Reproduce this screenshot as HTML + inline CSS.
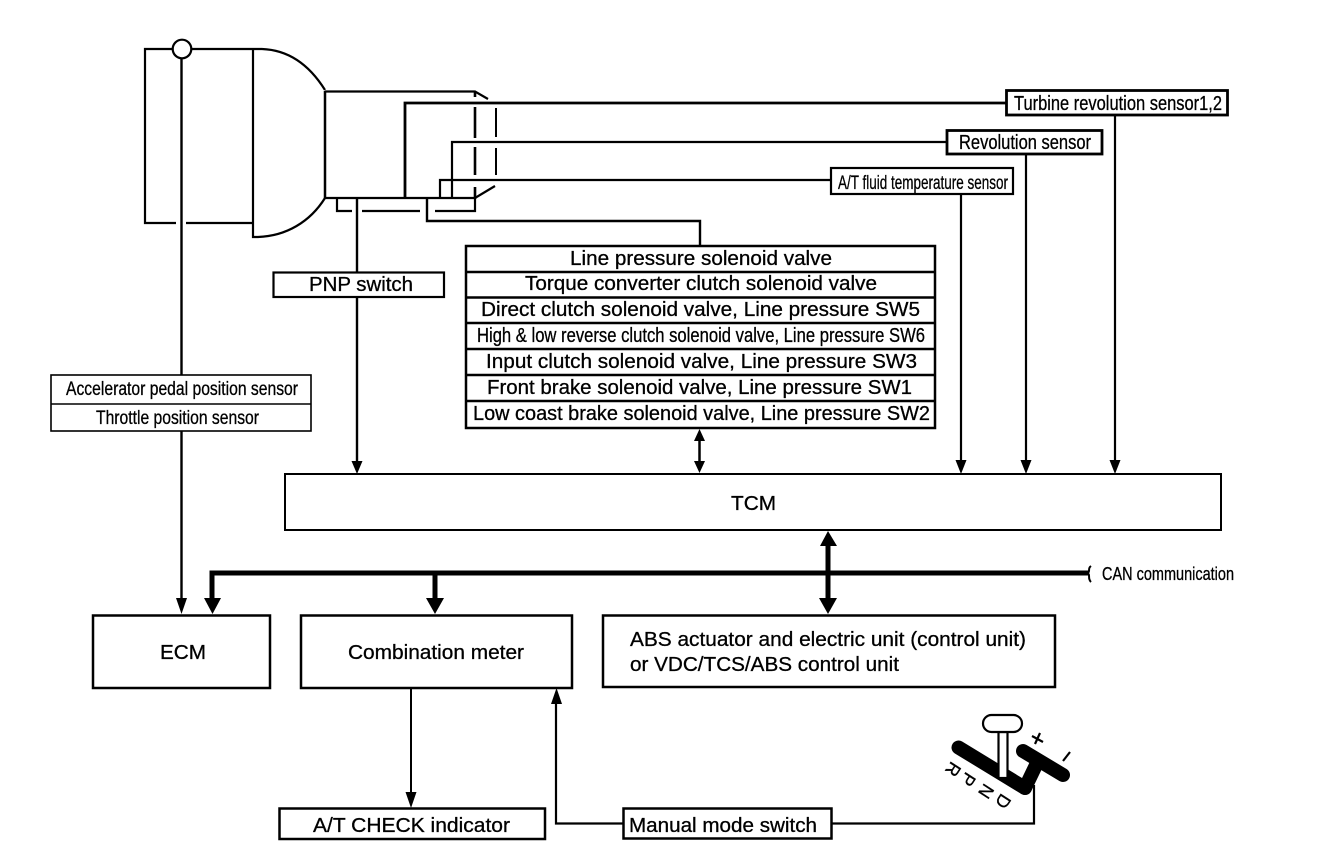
<!DOCTYPE html>
<html><head><meta charset="utf-8"><style>
html,body{margin:0;padding:0;background:#fff}
svg{display:block}
text{font-family:"Liberation Sans",sans-serif;fill:#000;stroke:#000;stroke-width:.3}
</style></head><body>
<svg width="1328" height="856" viewBox="0 0 1328 856" xmlns="http://www.w3.org/2000/svg">
<rect width="1328" height="856" fill="#fff"/>
<g fill="none" stroke="#000" stroke-width="2.2">
<!-- converter / engine -->
<path d="M173 49H145V223H176M186 223H253"/>
<path d="M191 49H262"/>
<path d="M253 49V237H258C286 236 310 222 325 198"/>
<path d="M262 49C290 50 310 66 325 90"/>
<circle cx="182" cy="49" r="9.3"/>
<path d="M325 91V198" stroke-width="2.5"/>
<path d="M325 91.500H475L488 99"/>
<path d="M325 198H475L495 186"/>
<path d="M475 91V97M475 107V138M475 147V175M475 187V199" stroke-width="2.600"/>
<path d="M496 108V137M496 148V175" stroke-width="2"/>
<path d="M405 198V103H1006" stroke-width="2.800"/>
<path d="M452 198V142H947"/>
<path d="M440 198V180H832" stroke-width="2.200"/>
<path d="M337 199V211H352M362 211H420M435 211H475V198"/>
<path d="M427 199V221H700V246" stroke-width="2.400"/>
<path d="M357 198V272" stroke-width="2.400"/>
<!-- sensor boxes -->
<rect x="1006.500" y="90.500" width="221" height="24.500" stroke-width="2.800"/>
<rect x="947" y="130.500" width="155" height="23.500" stroke-width="2.800"/>
<rect x="831" y="168" width="182" height="26" stroke-width="2.200"/>
<path d="M1115 115V465M1026 154V465M961 194V465"/>
<!-- solenoid table -->
<rect x="466" y="246" width="469" height="182" stroke-width="2.500"/>
<path d="M466 272H935M466 297.500H935M466 323H935M466 349H935M466 375H935M466 401H935" stroke-width="2.500"/>
<!-- PNP -->
<rect x="273.500" y="272.500" width="170.500" height="24.500"/>
<path d="M357 297V465" stroke-width="2.400"/>
<!-- throttle sensor -->
<path d="M181.500 58V375M181.500 431V600" stroke-width="2.400"/>
<rect x="51" y="375" width="260" height="56" stroke-width="1.600"/>
<path d="M51 404H311" stroke-width="1.600"/>
<!-- TCM -->
<rect x="285" y="474" width="936" height="56" stroke-width="2"/>
<path d="M699.500 440V462" stroke-width="2.500"/>
<!-- bus -->
<path d="M212 600V573H1088" stroke-width="5"/>
<path d="M435 573V600" stroke-width="5"/>
<path d="M828 545V600" stroke-width="5"/>
<path d="M1091 566C1087 569 1091 571 1087.500 573C1091 575 1087 578 1091 582" stroke-width="2"/>
<!-- bottom boxes -->
<rect x="93" y="615.500" width="177" height="72.500" stroke-width="2.500"/>
<rect x="301" y="615.500" width="271" height="72.500" stroke-width="2.500"/>
<rect x="603" y="615.500" width="452" height="71.500" stroke-width="2.500"/>
<rect x="279.500" y="808.500" width="265.500" height="30.500" stroke-width="2.500"/>
<rect x="623.500" y="808.500" width="208" height="30" stroke-width="2.500"/>
<path d="M411 688V800" stroke-width="2"/>
<path d="M623 823.500H556V700" stroke-width="2.200"/>
<path d="M832 823.500H1034V785" stroke-width="2.200"/>
</g>
<!-- arrowheads -->
<g fill="#000">
<path d="M351.500 461H362.500L357 474Z"/>
<path d="M955.500 460H966.500L961 474Z"/>
<path d="M1020.500 460H1031.500L1026 474Z"/>
<path d="M1109.500 460H1120.500L1115 474Z"/>
<path d="M694 441H705L699.500 429Z"/>
<path d="M694 461H705L699.500 473Z"/>
<path d="M176 598H187L181.500 614Z"/>
<path d="M204 598H221L212.500 614Z"/>
<path d="M426 598H444L435 614Z"/>
<path d="M820 546H837L828 531Z"/>
<path d="M819 598H837L828 614Z"/>
<path d="M405.500 792H416.500L411 808Z"/>
<path d="M551 704H562L556.500 688Z"/>
</g>
<!-- shift lever -->
<g fill="none" stroke="#000">
<path d="M958.500 747.500L1025 788" stroke-width="14" stroke-linecap="round"/>
<path d="M1025 788L1037 763" stroke-width="14" stroke-linecap="round"/>
<path d="M1023 751L1063 775" stroke-width="14" stroke-linecap="round"/>
<rect x="998.500" y="732" width="9" height="46" fill="#fff" stroke-width="2.200"/>
<rect x="983" y="715" width="39" height="17" rx="8.500" fill="#fff" stroke-width="2.200"/>
<path d="M1032 736L1043 742M1040 733L1035 744" stroke-width="2.200"/>
<path d="M1063 761L1070 752" stroke-width="2.200"/>
</g>
<g font-size="18" text-anchor="middle">
<text transform="translate(948 766) rotate(123)" dy="0">R</text>
<text transform="translate(963 776) rotate(123)">P</text>
<text transform="translate(981 788) rotate(123)">N</text>
<text transform="translate(998 798) rotate(123)">D</text>
</g>
<!-- labels -->
<g text-anchor="start" xml:space="preserve">
<text x="1014" y="110" font-size="20" textLength="208" lengthAdjust="spacingAndGlyphs">Turbine revolution sensor1,2</text>
<text x="959" y="149" font-size="20" textLength="132" lengthAdjust="spacingAndGlyphs">Revolution sensor</text>
<text x="838" y="189" font-size="19" textLength="170" lengthAdjust="spacingAndGlyphs">A/T fluid temperature sensor</text>
<text x="570" y="265" font-size="20" textLength="262" lengthAdjust="spacingAndGlyphs">Line pressure solenoid valve</text>
<text x="525" y="290" font-size="20" textLength="352" lengthAdjust="spacingAndGlyphs">Torque converter clutch solenoid valve</text>
<text x="481" y="316" font-size="20" textLength="439" lengthAdjust="spacingAndGlyphs">Direct clutch solenoid valve, Line pressure SW5</text>
<text x="477" y="342" font-size="20" textLength="448" lengthAdjust="spacingAndGlyphs">High &amp; low reverse clutch solenoid valve, Line pressure SW6</text>
<text x="486" y="368" font-size="20" textLength="431" lengthAdjust="spacingAndGlyphs">Input clutch solenoid valve, Line pressure SW3</text>
<text x="487" y="394" font-size="20" textLength="425" lengthAdjust="spacingAndGlyphs">Front brake solenoid valve, Line pressure SW1</text>
<text x="473" y="420" font-size="20" textLength="457" lengthAdjust="spacingAndGlyphs">Low coast  brake solenoid valve, Line pressure SW2</text>
<text x="309" y="291" font-size="20" textLength="104" lengthAdjust="spacingAndGlyphs">PNP switch</text>
<text x="66" y="395" font-size="19" textLength="232" lengthAdjust="spacingAndGlyphs">Accelerator pedal position sensor</text>
<text x="96" y="424" font-size="19" textLength="163" lengthAdjust="spacingAndGlyphs">Throttle position sensor</text>
<text x="731" y="510" font-size="20" textLength="45" lengthAdjust="spacingAndGlyphs">TCM</text>
<text x="1102" y="580" font-size="18" textLength="132" lengthAdjust="spacingAndGlyphs">CAN communication</text>
<text x="160" y="659" font-size="20" textLength="46" lengthAdjust="spacingAndGlyphs">ECM</text>
<text x="348" y="659" font-size="20" textLength="176" lengthAdjust="spacingAndGlyphs">Combination meter</text>
<text x="630" y="646" font-size="20" textLength="396" lengthAdjust="spacingAndGlyphs">ABS actuator and electric unit (control unit)</text>
<text x="630" y="671" font-size="20" textLength="269" lengthAdjust="spacingAndGlyphs">or VDC/TCS/ABS control unit</text>
<text x="313" y="832" font-size="20" textLength="197" lengthAdjust="spacingAndGlyphs">A/T CHECK indicator</text>
<text x="629" y="832" font-size="20" textLength="188" lengthAdjust="spacingAndGlyphs">Manual mode switch</text>
</g>
</svg>
</body></html>
